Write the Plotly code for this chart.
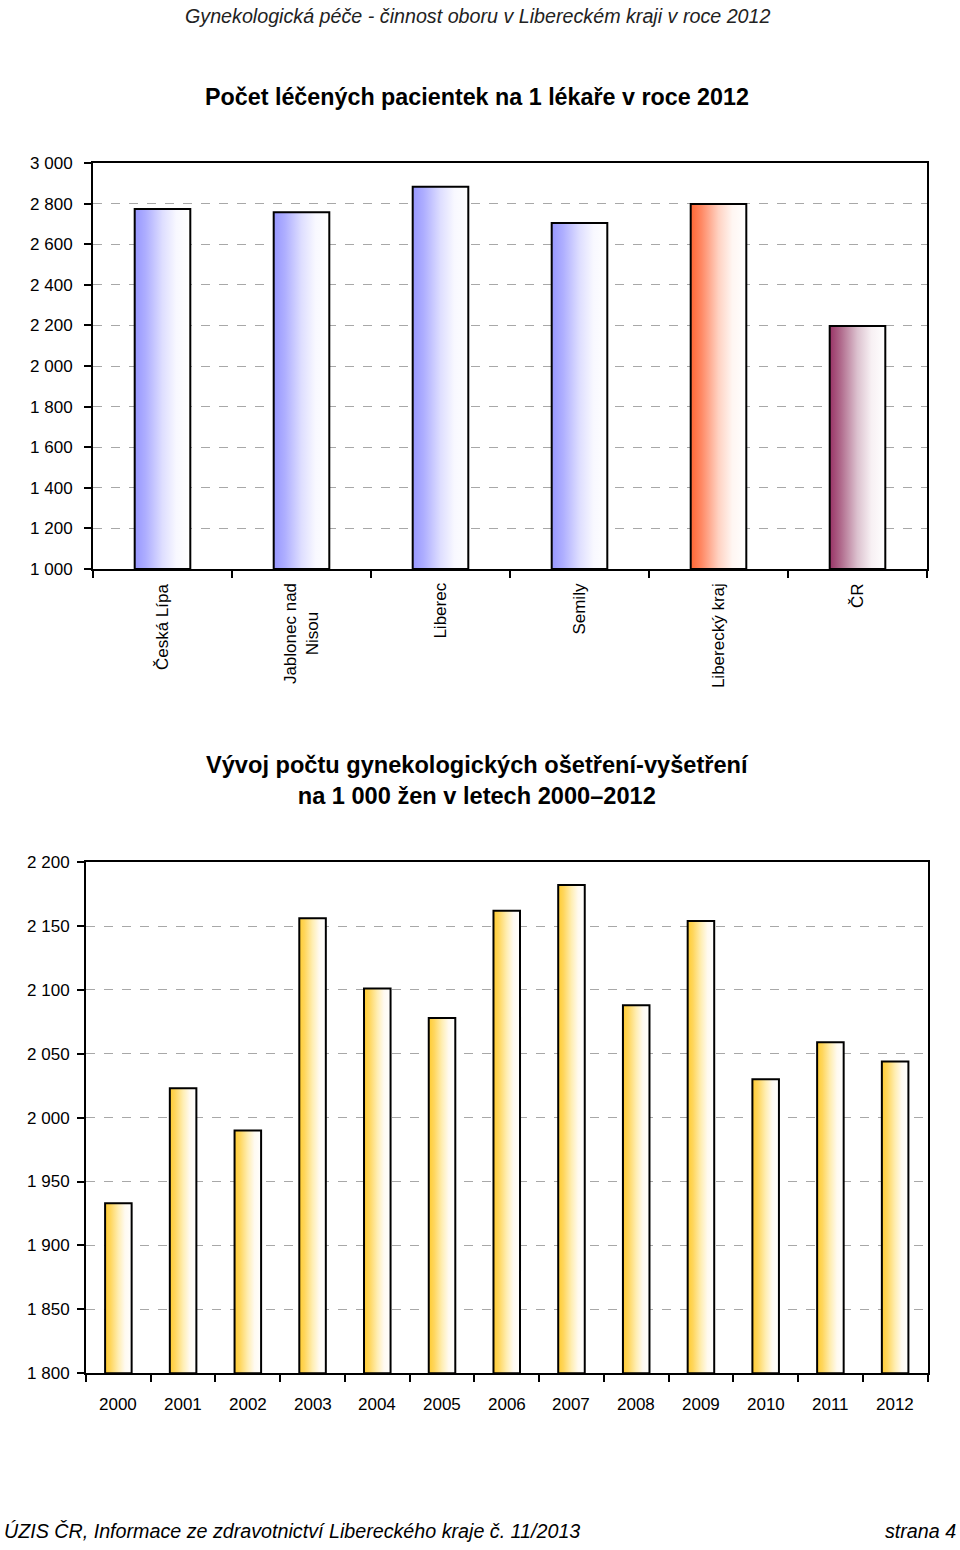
import plotly.graph_objects as go

# ---------------- data ----------------
districts = ["Česká Lípa", "Jablonec nad<br>Nisou", "Liberec", "Semily", "Liberecký kraj", "ČR"]
patients_per_doctor = [2773, 2757, 2883, 2704, 2798, 2197]
district_kind = ["okres", "okres", "okres", "okres", "kraj", "cr"]

years = ["2000", "2001", "2002", "2003", "2004", "2005", "2006",
         "2007", "2008", "2009", "2010", "2011", "2012"]
exams_per_1000 = [1933, 2023, 1990, 2156, 2101, 2078, 2162,
                  2182, 2088, 2154, 2030, 2059, 2044]

top_tickvals = [1000, 1200, 1400, 1600, 1800, 2000, 2200, 2400, 2600, 2800, 3000]
top_ticktext = ["1 000", "1 200", "1 400", "1 600", "1 800", "2 000",
                "2 200", "2 400", "2 600", "2 800", "3 000"]
bot_tickvals = [1800, 1850, 1900, 1950, 2000, 2050, 2100, 2150, 2200]
bot_ticktext = ["1 800", "1 850", "1 900", "1 950", "2 000",
                "2 050", "2 100", "2 150", "2 200"]

# ---------------- style ----------------
W, H = 960, 1550
FONT = "Liberation Sans, Arial, sans-serif"
gradients = {
    "okres": [[0, "#9797ff"], [0.2, "#aeaeff"], [0.5, "#dedeff"], [0.75, "#f8f8ff"], [1, "#ffffff"]],
    "kraj": [[0, "#ff6633"], [0.2, "#ff8a66"], [0.5, "#ffd2c2"], [0.75, "#fff6f2"], [1, "#ffffff"]],
    "cr": [[0, "#993366"], [0.2, "#b06a8c"], [0.5, "#dcc2cf"], [0.75, "#f7f0f3"], [1, "#ffffff"]],
}
yellow = [[0, "#ffcc33"], [0.2, "#ffd65c"], [0.5, "#ffeeb3"], [0.75, "#fffaf0"], [1, "#ffffff"]]

# the captured picture maps figure rows as out = 0.9876*y + 9; compensate
SCALE, OFFSET = 0.9876, 9.0


def fig_y(p_ref):
    return (p_ref - OFFSET) / SCALE


def px_y(p_fig):
    return 1 - p_fig / H


top_dom_x = [93 / W, 927 / W]
top_dom_y = [px_y(fig_y(569)), px_y(fig_y(163))]
bot_dom_x = [86 / W, 927.5 / W]
bot_dom_y = [px_y(fig_y(1373)), px_y(fig_y(862))]

fig = go.Figure()


def add_bar(xc, val, base, width, cscale, xa, ya):
    xs = [xc - width / 2, xc + width / 2, xc + width / 2, xc - width / 2, xc - width / 2]
    ys = [base, base, val, val, base]
    fig.add_trace(go.Scatter(
        x=xs, y=ys, xaxis=xa, yaxis=ya, mode="lines", fill="toself",
        fillgradient=dict(type="horizontal", colorscale=cscale),
        line=dict(color="black", width=2), hoverinfo="skip", showlegend=False,
    ))


for i, (v, k) in enumerate(zip(patients_per_doctor, district_kind)):
    add_bar(i, v, top_tickvals[0], 0.40, gradients[k], "x", "y")

for i, v in enumerate(exams_per_1000):
    add_bar(i, v, bot_tickvals[0], 0.41, yellow, "x2", "y2")

axis_common = dict(showline=True, linecolor="black", linewidth=2, mirror=True,
                   ticks="outside", ticklen=7, tickwidth=2, tickcolor="black",
                   zeroline=False, fixedrange=True)

fig.update_layout(
    width=W, height=H, autosize=False,
    margin=dict(l=0, r=0, t=0, b=0),
    paper_bgcolor="white", plot_bgcolor="white",
    font=dict(family=FONT, size=17, color="black"),
    xaxis=dict(domain=top_dom_x, anchor="y", range=[-0.5, len(districts) - 0.5],
               tickvals=[i - 0.5 for i in range(len(districts) + 1)],
               showticklabels=False, showgrid=False, **axis_common),
    yaxis=dict(domain=top_dom_y, anchor="x", range=[top_tickvals[0], top_tickvals[-1]],
               tickvals=top_tickvals, ticktext=top_ticktext,
               showgrid=True, gridcolor="#a8a8a8", gridwidth=1, griddash="dash",
               ticklabelstandoff=8, **axis_common),
    xaxis2=dict(domain=bot_dom_x, anchor="y2", range=[-0.5, len(years) - 0.5],
                tickvals=[i - 0.5 for i in range(len(years) + 1)],
                showticklabels=False, showgrid=False, **axis_common),
    yaxis2=dict(domain=bot_dom_y, anchor="x2", range=[bot_tickvals[0], bot_tickvals[-1]],
                tickvals=bot_tickvals, ticktext=bot_ticktext,
                showgrid=True, gridcolor="#a8a8a8", gridwidth=1, griddash="dash",
                ticklabelstandoff=4, **axis_common),
)

# category labels
for i, name in enumerate(districts):
    fig.add_annotation(x=i, y=top_dom_y[0], xref="x", yref="paper", text=name,
                       textangle=-90, showarrow=False, xanchor="center", yanchor="top",
                       yshift=-12, align="center", font=dict(size=17))
for i, yr in enumerate(years):
    fig.add_annotation(x=i, y=bot_dom_y[0], xref="x2", yref="paper", text=yr,
                       showarrow=False, xanchor="center", yanchor="top",
                       yshift=-20, font=dict(size=17))

# texts
fig.add_annotation(x=478 / W, y=px_y(7), xref="paper", yref="paper",
                   text="<i>Gynekologická péče - činnost oboru v Libereckém kraji v roce 2012</i>",
                   showarrow=False, xanchor="center", yanchor="middle",
                   font=dict(size=19.7, color="#222222"))
fig.add_annotation(x=477 / W, y=px_y(fig_y(97)), xref="paper", yref="paper",
                   text="<b>Počet léčených pacientek na 1 lékaře v roce 2012</b>",
                   showarrow=False, xanchor="center", yanchor="middle", font=dict(size=23.3))
fig.add_annotation(x=477 / W, y=px_y(fig_y(780)), xref="paper", yref="paper",
                   text="<b>Vývoj počtu gynekologických ošetření-vyšetření<br>na 1 000 žen v letech 2000–2012</b>",
                   showarrow=False, xanchor="center", yanchor="middle", align="center",
                   font=dict(size=23.6))
fig.add_annotation(x=2 / W, y=px_y(1541), xref="paper", yref="paper",
                   text="<i>ÚZIS ČR, Informace ze zdravotnictví Libereckého kraje č. 11/2013</i>",
                   showarrow=False, xanchor="left", yanchor="middle", font=dict(size=19.7))
fig.add_annotation(x=958 / W, y=px_y(1541), xref="paper", yref="paper",
                   text="<i>strana 4</i>",
                   showarrow=False, xanchor="right", yanchor="middle", font=dict(size=19.7))

page_css = (
    "var s=document.createElement('style');"
    "s.textContent='html,body{margin:0;padding:0;overflow:hidden;height:1550px;width:960px}"
    ".plotly-graph-div{position:absolute;top:0;left:0}';"
    "document.head.appendChild(s);"
)

fig.write_html("out.html", config={"displayModeBar": False, "staticPlot": True},
               post_script=page_css)
